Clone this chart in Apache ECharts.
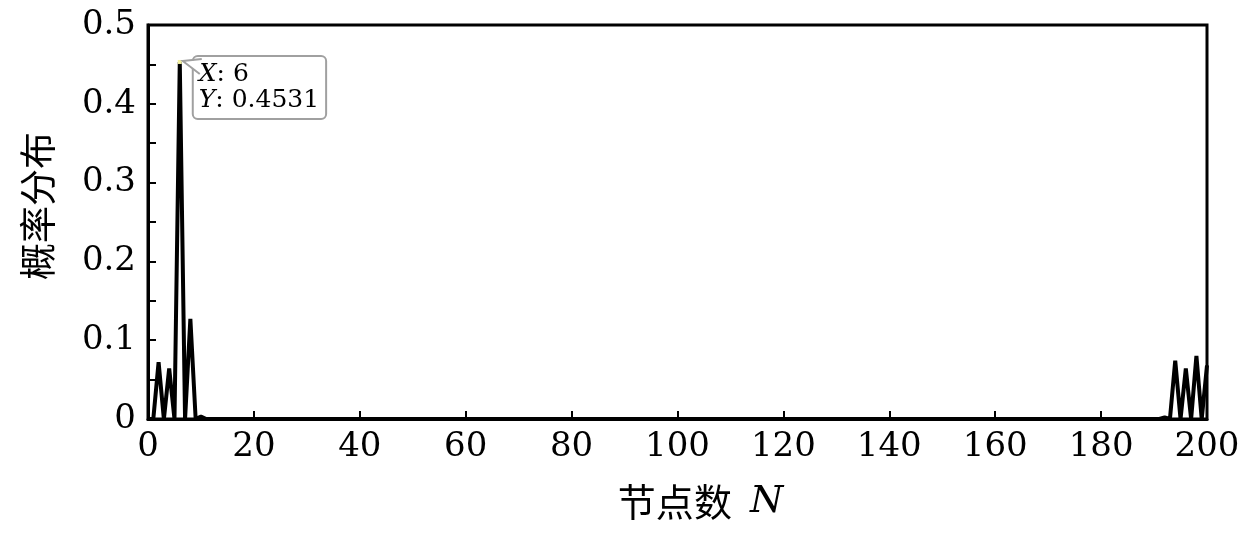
<!DOCTYPE html>
<html><head><meta charset="utf-8">
<script src="https://cdn.jsdelivr.net/npm/echarts@6/dist/echarts.min.js"></script>
<style>html,body{margin:0;padding:0;background:#fff}#c{width:1260px;height:535px}</style>
</head><body><div id="c"></div>
<script>
// node index N and probability values (odd nodes are zero)
const nodes = [0,1,2,3,4,5,6,7,8,9,10,11,12,190,191,192,193,194,195,196,197,198,199,200];
const prob  = [0,0,0.072,0,0.064,0,0.4531,0,0.127,0,0.003,0,0,0,0,0.002,0,0.074,0,0.064,0,0.080,0,0.068];
const xTicks = [0,20,40,60,80,100,120,140,160,180,200];
const yTicks = [0,0.1,0.2,0.3,0.4,0.5];
const tipX = 6, tipY = 0.4531;

const serif = '"DejaVu Serif","Liberation Serif",serif';
const chart = echarts.init(document.getElementById('c'));
const data = nodes.map((n,i)=>[n,prob[i]]);
chart.setOption({
  animation:false,
  grid:{left:148,right:53,top:25,bottom:116,show:true,borderColor:'#000',borderWidth:3,backgroundColor:'transparent'},
  xAxis:{type:'value',min:xTicks[0],max:xTicks[xTicks.length-1],interval:20,
    axisLine:{show:true,lineStyle:{color:'#000',width:3}},
    axisTick:{show:true,inside:true,length:8,lineStyle:{color:'#000',width:2}},
    splitLine:{show:false},
    axisLabel:{color:'#000',fontFamily:serif,fontSize:34,margin:11},
    name:'{c|节点数}{s|}{i|N}',nameLocation:'middle',nameGap:64,
    nameTextStyle:{padding:[0,0,0,46],rich:{c:{fontFamily:'"Noto Sans CJK SC"',fontSize:38,color:'#000'},s:{width:18},i:{fontFamily:serif,fontStyle:'italic',fontSize:38,color:'#000'}}}
  },
  yAxis:{type:'value',min:yTicks[0],max:yTicks[yTicks.length-1],interval:0.1,
    axisLine:{show:true,lineStyle:{color:'#000',width:3}},
    axisTick:{show:true,inside:true,length:8,lineStyle:{color:'#000',width:2}},
    minorTick:{show:true,splitNumber:2,length:8,lineStyle:{color:'#000',width:2}},
    splitLine:{show:false},
    axisLabel:{color:'#000',fontFamily:serif,fontSize:34,margin:12,formatter:v=>v===0?'0':String(+v.toFixed(1))},
    name:'概率分布',nameLocation:'middle',nameGap:92,nameRotate:90,
    nameTextStyle:{fontFamily:'"Noto Sans CJK SC"',fontSize:37,color:'#000',padding:[0,0,0,32]}
  },
  series:[{
    type:'line',data:data,showSymbol:false,lineStyle:{color:'#000',width:4},z:3,
    markPoint:{symbol:'rect',symbolSize:4,itemStyle:{color:'#f2f0a0'},
      data:[{coord:[tipX,tipY],value:tipY}],
      label:{show:true,position:[16,-3],align:'left',verticalAlign:'top',
        backgroundColor:'#fff',borderColor:'#a0a0a0',borderWidth:2,borderRadius:4,
        padding:[5,6,4,5],lineHeight:26,
        formatter:'{i|X}{n|: '+tipX+'}\n{i|Y}{n|: '+tipY+'}',
        rich:{i:{fontFamily:serif,fontStyle:'italic',fontSize:25,color:'#000',lineHeight:26},
              n:{fontFamily:serif,fontSize:25,color:'#000',lineHeight:26}}}
    }
  }]
});
const p = chart.convertToPixel({gridIndex:0},[tipX,tipY]);
chart.setOption({graphic:[
  {type:'polygon',z:100,shape:{points:[[p[0]+2,p[1]-1],[p[0]+22,p[1]-2],[p[0]+20,p[1]+12]]},style:{fill:'#fff',stroke:null}},
  {type:'polyline',z:101,shape:{points:[[p[0]+20,p[1]+12],[p[0]+3,p[1]-1],[p[0]+22,p[1]-3]]},style:{stroke:'#a0a0a0',lineWidth:2,fill:null}}
]});
</script></body></html>
